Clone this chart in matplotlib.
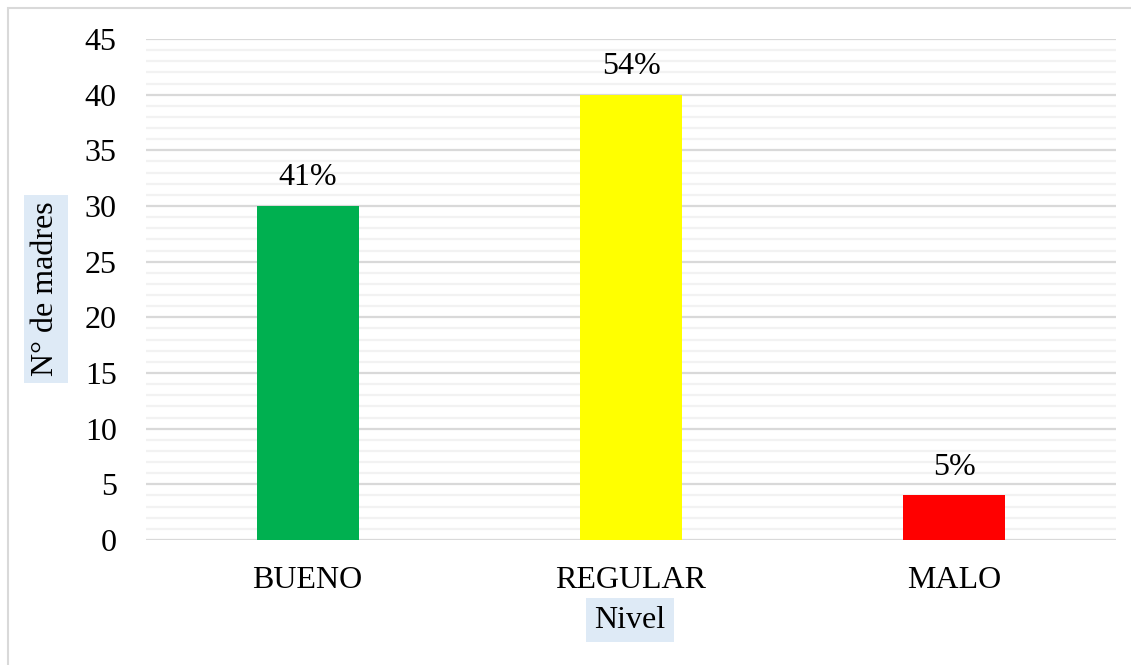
import matplotlib
matplotlib.use("Agg")
import matplotlib.pyplot as plt
from matplotlib.patches import Rectangle
from matplotlib.ticker import MultipleLocator

categories = ["BUENO", "REGULAR", "MALO"]
values = [30, 40, 4]
pct_labels = ["41%", "54%", "5%"]
colors = ["#00B050", "#FFFF00", "#FF0000"]
y_ticks = [0, 5, 10, 15, 20, 25, 30, 35, 40, 45]

plt.rcParams['font.family'] = ['Liberation Serif', 'DejaVu Serif']

W, H = 1131, 665
fig = plt.figure(figsize=(W / 100, H / 100), dpi=100)
ax = fig.add_axes([146 / W, (H - 540) / H, (1116 - 146) / W, (540 - 39) / H])

x = list(range(len(categories)))
bars = ax.bar(x, values, width=0.315, color=colors, zorder=3)

ax.set_xlim(-0.5, 2.5)
ax.set_ylim(0, 45)
ax.set_yticks(y_ticks)
ax.yaxis.set_minor_locator(MultipleLocator(1))
ax.set_xticks(x)
ax.set_xticklabels(categories)
ax.tick_params(axis='both', which='both', length=0, labelsize=23, colors='black')
ax.tick_params(axis='y', pad=21)
ax.tick_params(axis='x', pad=19)

ax.grid(axis='y', which='major', color='#D9D9D9', linewidth=1.6, zorder=0)
ax.grid(axis='y', which='minor', color='#F2F2F2', linewidth=1.6, zorder=0)
for s in ax.spines.values():
    s.set_visible(False)

for xi, v, lab in zip(x, values, pct_labels):
    ax.annotate(lab, (xi, v), xytext=(0, 10), textcoords='offset points',
                ha='center', va='bottom', fontsize=23)

# Axis titles with light blue backgrounds
fig.text(46 / W, 1 - 289 / H, "N° de madres", rotation=90, ha='center', va='center',
         fontsize=23,
         bbox=dict(boxstyle='square,pad=0.22', facecolor='#DEEAF6', edgecolor='none'))
fig.text(630 / W, 1 - 620 / H, "Nivel", ha='center', va='center', fontsize=23,
         bbox=dict(boxstyle='square,pad=0.25', facecolor='#DEEAF6', edgecolor='none'))

# Chart border (top and left visible)
fig.patches.append(Rectangle((8 / W, -0.1), 1.2, 1.1 - 8 / H, transform=fig.transFigure,
                             facecolor='none', edgecolor='#D9D9D9', linewidth=1.5,
                             zorder=0))

fig.savefig("out.png", dpi=100)
